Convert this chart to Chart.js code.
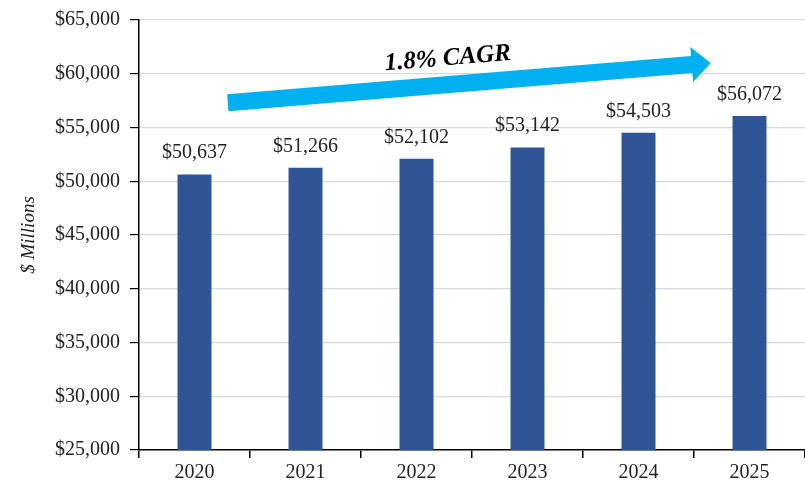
<!DOCTYPE html>
<html>
<head>
<meta charset="utf-8">
<script src="https://cdn.jsdelivr.net/npm/chart.js@4"></script>
<style>
  html, body { margin: 0; padding: 0; background: #fff; }
  #wrap { width: 805px; height: 487px; position: relative; }
</style>
</head>
<body>
<div id="wrap"><canvas id="chart"></canvas></div>
<script>
  // Chart data
  const years = ["2020", "2021", "2022", "2023", "2024", "2025"];
  const revenue = [50637, 51266, 52102, 53142, 54503, 56072];
  const cagrLabel = "1.8% CAGR";

  const serif = "'Liberation Serif', 'DejaVu Serif', serif";

  // Value labels above each bar
  const barLabels = {
    id: "barLabels",
    afterDatasetsDraw(chart) {
      const ctx = chart.ctx;
      const meta = chart.getDatasetMeta(0);
      ctx.save();
      ctx.font = "20px " + serif;
      ctx.fillStyle = "#222";
      ctx.textAlign = "center";
      ctx.textBaseline = "alphabetic";
      meta.data.forEach((bar, i) => {
        ctx.fillText("$" + revenue[i].toLocaleString("en-US"), bar.x, bar.y - 16);
      });
      ctx.restore();
    }
  };

  // Growth arrow with CAGR text
  const cagrArrow = {
    id: "cagrArrow",
    afterDatasetsDraw(chart) {
      const ctx = chart.ctx;
      const x = chart.scales.x, y = chart.scales.y;
      const cat = (x.getPixelForValue(1) - x.getPixelForValue(0));
      const x0 = x.getPixelForValue(0) + cat * 0.30;
      const y0 = y.getPixelForValue(57300);
      const x1 = x.getPixelForValue(5) - cat * 0.35;
      const y1 = y.getPixelForValue(61000);
      const ang = Math.atan2(y1 - y0, x1 - x0);
      const len = Math.hypot(x1 - x0, y1 - y0);
      const half = 8.5, headLen = 19, headHalf = 17.5;
      ctx.save();
      ctx.translate(x0, y0);
      ctx.rotate(ang);
      ctx.fillStyle = "#00B0F0";
      ctx.beginPath();
      ctx.moveTo(0, -half);
      ctx.lineTo(len - headLen, -half);
      ctx.lineTo(len - headLen, -headHalf);
      ctx.lineTo(len, 0);
      ctx.lineTo(len - headLen, headHalf);
      ctx.lineTo(len - headLen, half);
      ctx.lineTo(0, half);
      ctx.closePath();
      ctx.fill();
      ctx.fillStyle = "#000";
      ctx.font = "italic bold 25px " + serif;
      ctx.textAlign = "center";
      ctx.textBaseline = "alphabetic";
      ctx.fillText(cagrLabel, len * 0.46, -half - 11);
      ctx.restore();
    }
  };

  new Chart(document.getElementById("chart"), {
    type: "bar",
    data: {
      labels: years,
      datasets: [{
        data: revenue,
        backgroundColor: "#2F5597",
        barPercentage: 0.306,
        categoryPercentage: 1
      }]
    },
    options: {
      responsive: true,
      maintainAspectRatio: false,
      animation: false,
      layout: { padding: { top: 7, right: 0, left: 14, bottom: 0 } },
      plugins: {
        legend: { display: false },
        tooltip: { enabled: false }
      },
      scales: {
        x: {
          offset: true,
          afterFit: s => { s.height = 37; },
          grid: {
            display: true,
            offset: true,
            drawOnChartArea: false,
            color: "#000",
            tickLength: 8,
            lineWidth: 1.5
          },
          border: { color: "#000", width: 1.5 },
          ticks: { color: "#222", font: { family: serif, size: 20 }, padding: 3 }
        },
        y: {
          min: 25000,
          max: 65000,
          afterFit: s => { s.width = 125; },
          ticks: {
            stepSize: 5000,
            color: "#222",
            font: { family: serif, size: 20, lineHeight: 1.0 },
            padding: 10,
            callback: v => "$" + v.toLocaleString("en-US")
          },
          grid: {
            color: "#d9d9d9",
            tickColor: "#000",
            tickLength: 9,
            lineWidth: 1.2
          },
          border: { color: "#000", width: 1.5 },
          title: {
            display: true,
            text: "$ Millions",
            color: "#222",
            font: { family: serif, size: 19, style: "italic" },
            padding: { top: 4, bottom: 4 }
          }
        }
      }
    },
    plugins: [barLabels, cagrArrow]
  });
</script>
</body>
</html>
